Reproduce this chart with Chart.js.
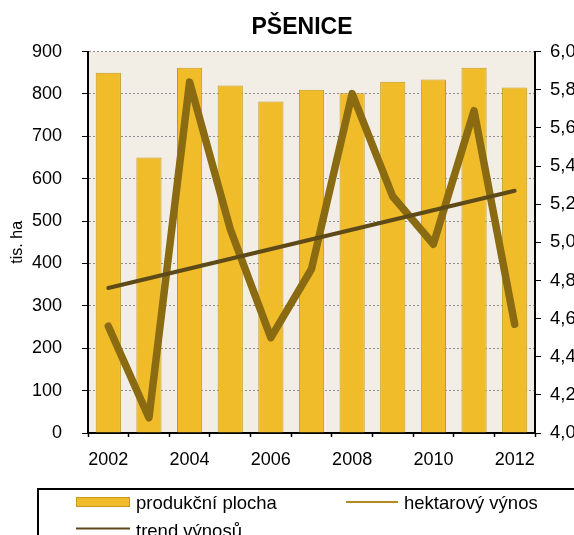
<!DOCTYPE html>
<html>
<head>
<meta charset="utf-8">
<title>PŠENICE</title>
<script src="https://cdn.jsdelivr.net/npm/chart.js@4/dist/chart.umd.min.js"></script>
<style>
  html, body { margin: 0; padding: 0; overflow: hidden; background: #fff; }
</style>
</head>
<body>
<canvas id="c" width="604" height="570"></canvas>
<script>
// data
const years = ['2002', '2003', '2004', '2005', '2006', '2007', '2008', '2009', '2010', '2011', '2012'];
const shownYears = ['2002', '2004', '2006', '2008', '2010', '2012'];
const plocha = [850, 650, 862, 820, 782, 810, 802, 829, 834, 862, 815];     // tis. ha
const vynos = [4.56, 4.08, 5.84, 5.07, 4.50, 4.86, 5.78, 5.24, 4.99, 5.69, 4.57]; // t/ha
const trend = [4.76, null, null, null, null, null, null, null, null, null, 5.27];

const FONT = "'Liberation Sans', Arial, sans-serif";
const barFill = '#F0BC2A';
const barBorder = '#C59A1C';
const lineColor = '#8A6B12';
const trendColor = '#5E4A18';

// beige plot background
const plotBg = {
  id: 'plotBg',
  beforeDraw(chart) {
    const a = chart.chartArea;
    const ctx = chart.ctx;
    ctx.save();
    ctx.fillStyle = '#F2EEE5';
    ctx.fillRect(a.left, a.top, a.right - a.left, a.bottom - a.top);
    ctx.restore();
  }
};

// boxed legend under the chart, two columns
const boxLegend = {
  id: 'boxLegend',
  afterDraw(chart) {
    const ctx = chart.ctx;
    const ds = chart.data.datasets;
    ctx.save();
    ctx.lineWidth = 2;
    ctx.strokeStyle = '#000';
    ctx.strokeRect(38, 489, 700, 200);

    ctx.font = '18.5px ' + FONT;
    ctx.textBaseline = 'middle';

    // produkční plocha
    ctx.fillStyle = barFill;
    ctx.fillRect(76, 497, 54, 10);
    ctx.strokeStyle = barBorder;
    ctx.lineWidth = 1;
    ctx.strokeRect(76.5, 497.5, 53, 9);
    ctx.fillStyle = '#000';
    ctx.fillText(ds[0].label, 136, 503.5);

    // hektarový výnos
    ctx.strokeStyle = '#B38A22';
    ctx.lineWidth = 2;
    ctx.beginPath();
    ctx.moveTo(346, 502);
    ctx.lineTo(398, 502);
    ctx.stroke();
    ctx.fillText(ds[1].label, 404, 503.5);

    // trend výnosů
    ctx.strokeStyle = trendColor;
    ctx.beginPath();
    ctx.moveTo(76, 528.5);
    ctx.lineTo(130, 528.5);
    ctx.stroke();
    ctx.fillText(ds[2].label, 136, 531.5);
    ctx.restore();
  }
};

const ctx = document.getElementById('c').getContext('2d');

new Chart(ctx, {
  type: 'bar',
  data: {
    labels: years,
    datasets: [
      {
        type: 'bar',
        label: 'produkční plocha',
        data: plocha,
        yAxisID: 'y',
        backgroundColor: barFill,
        borderColor: barBorder,
        borderWidth: 1,
        barPercentage: 0.62,
        categoryPercentage: 1,
        order: 3
      },
      {
        type: 'line',
        label: 'hektarový výnos',
        data: vynos,
        yAxisID: 'y1',
        borderColor: lineColor,
        borderWidth: 7.5,
        borderCapStyle: 'round',
        borderJoinStyle: 'round',
        pointRadius: 0,
        tension: 0,
        order: 2
      },
      {
        type: 'line',
        label: 'trend výnosů',
        data: trend,
        yAxisID: 'y1',
        borderColor: trendColor,
        borderWidth: 4,
        borderCapStyle: 'round',
        pointRadius: 0,
        spanGaps: true,
        order: 1
      }
    ]
  },
  options: {
    responsive: false,
    animation: false,
    layout: { padding: 0 },
    plugins: {
      legend: { display: false },
      tooltip: { enabled: false },
      title: {
        display: true,
        text: 'PŠENICE',
        color: '#000',
        font: { family: FONT, size: 23, weight: 'bold' },
        padding: { top: 14, bottom: 10 }
      }
    },
    scales: {
      x: {
        offset: true,
        grid: {
          offset: true,
          drawOnChartArea: false,
          tickLength: 4,
          tickColor: '#000',
          tickWidth: 1.5
        },
        border: { color: '#000', width: 2 },
        ticks: {
          autoSkip: false,
          maxRotation: 0,
          padding: 12,
          color: '#000',
          font: { family: FONT, size: 18 },
          callback: function (v) {
            const lab = this.getLabelForValue(v);
            return shownYears.includes(lab) ? lab : '';
          }
        },
        afterFit: s => { s.height = 137; }
      },
      y: {
        position: 'left',
        min: 0,
        max: 900,
        grid: {
          color: '#8F8F8F',
          lineWidth: 1,
          tickLength: 6,
          tickColor: '#000',
          tickBorderDash: []
        },
        border: { color: '#000', width: 2, dash: [2, 2] },
        ticks: {
          stepSize: 100,
          padding: 20,
          color: '#000',
          font: { family: FONT, size: 18 }
        },
        title: {
          display: true,
          text: 'tis. ha',
          color: '#000',
          font: { family: FONT, size: 16 },
          padding: { top: 8, bottom: 0 }
        },
        afterFit: s => { s.width = 88; }
      },
      y1: {
        position: 'right',
        min: 4,
        max: 6,
        grid: {
          drawOnChartArea: false,
          tickLength: 6,
          tickColor: '#000'
        },
        border: { color: '#000', width: 2 },
        ticks: {
          stepSize: 0.2,
          padding: 9,
          color: '#000',
          font: { family: FONT, size: 18.5 },
          callback: v => v.toFixed(1).replace('.', ',')
        },
        afterFit: s => { s.width = 69; }
      }
    }
  },
  plugins: [plotBg, boxLegend]
});
</script>
</body>
</html>
